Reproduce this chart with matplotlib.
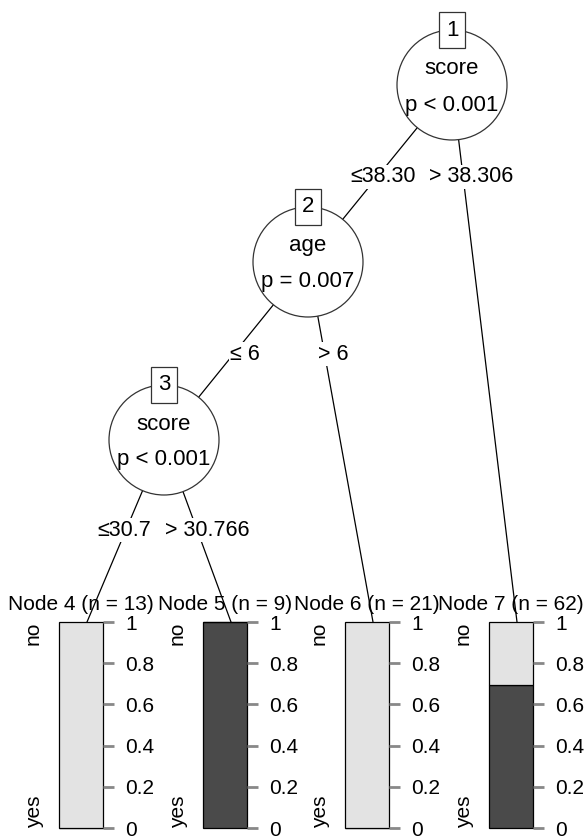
import matplotlib

matplotlib.use("Agg")
import matplotlib.pyplot as plt
from matplotlib.patches import Ellipse, Rectangle

plt.rcParams["font.family"] = ["Liberation Sans Narrow", "Liberation Sans", "DejaVu Sans"]

# ---- tree data ----
inner_ids = [1, 2, 3]
inner_vars = ["score", "age", "score"]
inner_pvals = ["p < 0.001", "p = 0.007", "p < 0.001"]
left_labels = ["\u226438.30", "\u2264 6", "\u226430.7"]
right_labels = ["> 38.306", "> 6", "> 30.766"]

leaf_ids = [4, 5, 6, 7]
leaf_n = [13, 9, 21, 62]
leaf_yes = [0.0, 1.0, 0.0, 0.694]
classes = ["no", "yes"]
ticks = [0, 0.2, 0.4, 0.6, 0.8, 1]
tick_labels = ["0", "0.2", "0.4", "0.6", "0.8", "1"]

# ---- layout (pixels) ----
W, H = 586, 840
inner_xy = {1: (452, 85), 2: (308, 262), 3: (164, 440)}
leaf_cx = {4: 81, 5: 225, 6: 367, 7: 511}
children = {1: (2, 7), 2: (3, 6), 3: (4, 5)}
label_y = {1: 177, 2: 354, 3: 530}
label_x = {1: (383, 471), 2: (245, 333), 3: (124, 207)}
bar_top, bar_bot, bar_w = 622, 828, 44
R = 55

LIGHT = "#E3E3E3"
DARK = "#4A4A4A"

fig = plt.figure(figsize=(W / 100, H / 100), dpi=100)
ax = fig.add_axes([0, 0, 1, 1])
ax.set_xlim(0, W)
ax.set_ylim(H, 0)
ax.axis("off")


def child_top(c):
    if c in inner_xy:
        return inner_xy[c]
    return (leaf_cx[c] + 6, bar_top)


# edges
for nid, (lc, rc) in children.items():
    x0, y0 = inner_xy[nid]
    for c in (lc, rc):
        x1, y1 = child_top(c)
        ax.plot([x0, x1], [y0, y1], color="black", lw=0.9, zorder=1)
    for lab, lx in zip((left_labels[nid - 1], right_labels[nid - 1]), label_x[nid]):
        ax.text(lx, label_y[nid], lab, ha="center", va="center", fontsize=15.5,
                bbox=dict(facecolor="white", edgecolor="none", pad=1), zorder=3)

# inner nodes
for nid, var, pv in zip(inner_ids, inner_vars, inner_pvals):
    x, y = inner_xy[nid]
    ax.add_patch(Ellipse((x, y), 2 * R, 2 * R, facecolor="white",
                         edgecolor="#333333", lw=0.9, zorder=4))
    ax.add_patch(Rectangle((x - 13, y - R - 18), 26, 36, facecolor="white",
                           edgecolor="#333333", lw=0.9, zorder=5))
    ax.text(x, y - R, str(nid), ha="center", va="center", fontsize=16, zorder=6)
    ax.text(x, y - 16, var, ha="center", va="center", fontsize=16, zorder=6)
    ax.text(x, y + 20, pv, ha="center", va="center", fontsize=16, zorder=6)

# terminal nodes
for lid, n, yes in zip(leaf_ids, leaf_n, leaf_yes):
    cx = leaf_cx[lid]
    ax.text(cx, 604, f"Node {lid} (n = {n})", ha="center", va="center",
            fontsize=15, zorder=6)
    lax = fig.add_axes([(cx - bar_w / 2) / W, 1 - bar_bot / H,
                        bar_w / W, (bar_bot - bar_top) / H])
    lax.bar(0.5, yes, width=1, color=DARK, edgecolor="black", lw=0.9)
    lax.bar(0.5, 1 - yes, bottom=yes, width=1, color=LIGHT, edgecolor="black", lw=0.9)
    lax.set_xlim(0, 1)
    lax.set_ylim(0, 1)
    for s in lax.spines.values():
        s.set_visible(False)
    lax.set_xticks([])
    lax.yaxis.tick_right()
    lax.set_yticks(ticks)
    lax.set_yticklabels(tick_labels, fontsize=15)
    lax.tick_params(axis="y", length=8, width=2, color="#888888", pad=8)
    lax.text(-0.6, 1.0, classes[0], rotation=90, ha="center", va="top",
             fontsize=15, transform=lax.transAxes)
    lax.text(-0.55, 0.0, classes[1], rotation=90, ha="center", va="bottom",
             fontsize=15, transform=lax.transAxes)
    for sp in lax.patches:
        sp.set_clip_on(False)

fig.savefig("out.png", dpi=100)
